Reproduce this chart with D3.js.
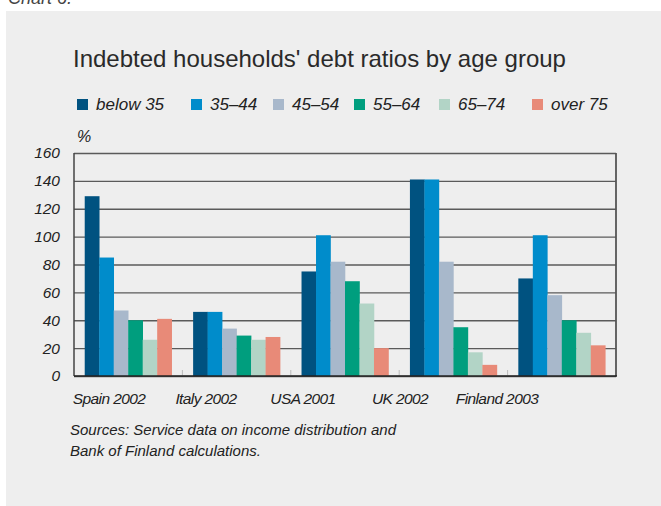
<!DOCTYPE html>
<html>
<head>
<meta charset="utf-8">
<script src="https://cdn.jsdelivr.net/npm/d3@7"></script>
<style>
  body { margin: 0; background: #fff; }
  text { font-family: "Liberation Sans", Arial, sans-serif; fill: #222; }
  .it { font-style: italic; }
</style>
</head>
<body>
<svg width="661" height="506"></svg>
<script>
// data
var countries = ["Spain 2002", "Italy 2002", "USA 2001", "UK 2002", "Finland 2003"];
var ages = ["below 35", "35\u201344", "45\u201354", "55\u201364", "65\u201374", "over 75"];
var below35 = [129, 46, 75, 141, 70];
var age3544 = [85, 46, 101, 141, 101];
var age4554 = [47, 34, 82, 82, 58];
var age5564 = [40, 29, 68, 35, 40];
var age6574 = [26, 26, 52, 17, 31];
var over75 = [41, 28, 20, 8, 22];
var yTicks = [0, 20, 40, 60, 80, 100, 120, 140, 160];

var series = [below35, age3544, age4554, age5564, age6574, over75];
var colors = ["#005280", "#008ccb", "#a8b8cb", "#009e7e", "#b2d4c6", "#e88a78"];

var svg = d3.select("svg");

// grey panel
svg.append("rect").attr("x", 6).attr("y", 11).attr("width", 661).attr("height", 506).attr("fill", "#eeeeee");

svg.append("text").attr("class", "it").attr("x", 8).attr("y", 4)
  .style("font-size", "18px").style("fill", "#444").text("Chart 6.");

svg.append("text").attr("x", 73).attr("y", 67)
  .style("font-size", "24px").style("fill", "#2a2a2a")
  .text("Indebted households' debt ratios by age group");

// legend
var legendX = [77, 191, 273, 354, 439, 532];
var legend = svg.append("g").selectAll("g").data(ages).enter().append("g")
  .attr("transform", function(d, i) { return "translate(" + legendX[i] + ",99)"; });
legend.append("rect").attr("width", 11).attr("height", 11)
  .attr("fill", function(d, i) { return colors[i]; });
legend.append("text").attr("class", "it").attr("x", 19).attr("y", 11)
  .style("font-size", "17px").text(function(d) { return d; });

svg.append("text").attr("class", "it").attr("x", 77).attr("y", 142)
  .style("font-size", "16px").text("%");

var margin = {left: 74, right: 616, top: 153, bottom: 376};

var x = d3.scaleBand().domain(countries).range([margin.left, margin.right]);
var xi = d3.scaleBand().domain(d3.range(ages.length)).range([0, x.bandwidth()]).paddingOuter(0.74);
var y = d3.scaleLinear().domain([0, 160]).range([margin.bottom, margin.top]);

// gridlines + y labels
var yAxis = svg.append("g").attr("transform", "translate(" + margin.left + ",0)")
  .call(d3.axisLeft(y).tickValues(yTicks).tickSize(-(margin.right - margin.left)).tickPadding(14));
yAxis.select(".domain").remove();
yAxis.selectAll(".tick line").attr("stroke", "#5a5a5a").attr("stroke-width", 1.3);
yAxis.selectAll(".tick text").attr("class", "it").style("font-size", "15.5px")
  .style("font-family", "'Liberation Sans', Arial, sans-serif").attr("fill", "#222");

// bars
var groups = svg.append("g").selectAll("g").data(series).enter().append("g")
  .attr("fill", function(d, i) { return colors[i]; });
groups.each(function(vals, si) {
  d3.select(this).selectAll("rect").data(vals).enter().append("rect")
    .attr("x", function(d, ci) { return x(countries[ci]) + xi(si); })
    .attr("width", xi.bandwidth() + 0.3)
    .attr("y", function(d) { return y(d); })
    .attr("height", function(d) { return y(0) - y(d); });
});

// frame
svg.append("line").attr("x1", margin.left).attr("x2", margin.left)
  .attr("y1", margin.top).attr("y2", margin.bottom).attr("stroke", "#444").attr("stroke-width", 1.5);
svg.append("line").attr("x1", margin.right).attr("x2", margin.right)
  .attr("y1", margin.top).attr("y2", margin.bottom).attr("stroke", "#555").attr("stroke-width", 1.8);

// x axis with small ticks between groups
var xAxis = svg.append("g").attr("transform", "translate(0," + margin.bottom + ")");
xAxis.selectAll("line.sep").data(countries.slice(1)).enter().append("line")
  .attr("x1", function(d) { return x(d); }).attr("x2", function(d) { return x(d); })
  .attr("y1", 0).attr("y2", -6).attr("stroke", "#bbb").attr("stroke-width", 1);
xAxis.append("line").attr("x1", margin.left).attr("x2", margin.right + 1)
  .attr("y1", 0).attr("y2", 0).attr("stroke", "#222").attr("stroke-width", 1.5);

var xl = d3.scalePoint().domain(countries).range([109, 497]);
svg.append("g").selectAll("text").data(countries).enter().append("text")
  .attr("class", "it").attr("x", function(d) { return xl(d); }).attr("y", 404)
  .attr("text-anchor", "middle").style("font-size", "15.5px").style("letter-spacing", "-0.6px")
  .text(function(d) { return d; });

svg.append("text").attr("class", "it").attr("x", 70).attr("y", 435)
  .style("font-size", "15px").text("Sources: Service data on income distribution and");
svg.append("text").attr("class", "it").attr("x", 70).attr("y", 456)
  .style("font-size", "15px").text("Bank of Finland calculations.");
</script>
</body>
</html>
